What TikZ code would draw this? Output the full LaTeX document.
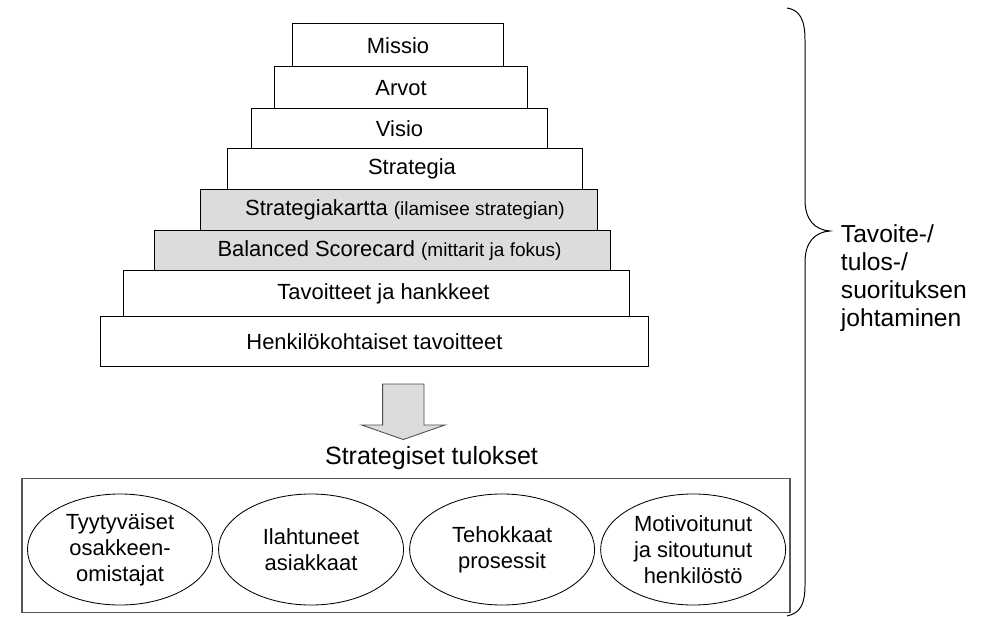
\documentclass[tikz,border=0pt]{standalone}
\usepackage{fontspec}
\setmainfont{Liberation Sans}
\usetikzlibrary{positioning,shapes.geometric}
\definecolor{tiergray}{HTML}{DCDCDC}
\definecolor{framegray}{HTML}{555555}
\newcommand{\sidenote}[1]{{\fontsize{13.5}{16}\selectfont #1}}

\begin{document}
\begin{tikzpicture}[x=0.025cm,y=-0.025cm,
  tier/.style={draw,line width=0.7pt,inner sep=0pt,outer sep=0pt,align=center,font=\fontsize{15.6}{18}\selectfont},
  goal/.style={draw,ellipse,line width=0.6pt,inner sep=0pt,outer sep=0pt,minimum width=4.625cm,minimum height=2.775cm,align=center,font=\fontsize{15.6}{18.5}\selectfont}]
  \useasboundingbox (0,0) rectangle (986,617);
  % pyramid
  \node[tier,minimum width=5.25cm,minimum height=1.0675cm] (missio) at (398,45.3) {Missio};
  \node[tier,minimum width=6.3cm,minimum height=1.05cm,below=0pt of missio,xshift=0.075cm] (arvot) {Arvot};
  \node[tier,minimum width=7.375cm,minimum height=1.0075cm,below=0pt of arvot,xshift=-0.0375cm] (visio) {Visio};
  \node[tier,minimum width=8.85cm,minimum height=1.0125cm,below=0pt of visio,xshift=0.1375cm] (strat) {\hspace*{0.35cm}Strategia};
  \node[tier,fill=tiergray,minimum width=9.9cm,minimum height=1.0125cm,below=0pt of strat,xshift=-0.15cm] (kartta) {\hspace*{0.3cm}Strategiakartta \sidenote{(ilamisee strategian)}};
  \node[tier,fill=tiergray,minimum width=11.375cm,minimum height=1.0075cm,below=0pt of kartta,xshift=-0.4125cm] (bsc) {\hspace*{0.35cm}Balanced Scorecard \sidenote{(mittarit ja fokus)}};
  \node[tier,minimum width=12.625cm,minimum height=1.16cm,below=0pt of bsc,xshift=-0.15cm] (tavoit) {\hspace*{0.35cm}Tavoitteet ja hankkeet};
  \node[tier,minimum width=13.675cm,minimum height=1.25cm,below=0pt of tavoit,xshift=-0.05cm] (henk) {Henkilökohtaiset tavoitteet};

  % block arrow
  \draw[fill=tiergray,line width=0.6pt,draw=black!70] (382.6,384) -- (424,384) -- (424,425) -- (445,425)
    -- (403.3,439.5) -- (361.6,425) -- (382.6,425) -- cycle;

  \node[font=\fontsize{17.8}{21}\selectfont] (tulokset) at (431.5,458) {Strategiset tulokset};
  \node[draw=framegray,line width=1.1pt,minimum width=19.2cm,minimum height=3.35cm,inner sep=0pt] (frame) at (406,545.5) {};

  \node[goal] (omist) at (120,549.5) {Tyytyväiset\\osakkeen-\\omistajat};
  \node[goal,right=0.15cm of omist] (asiak) {Ilahtuneet\\asiakkaat};
  \node[goal,right=0.15cm of asiak] (prosess) {Tehokkaat\\prosessit};
  \node[goal,right=0.15cm of prosess] (henkil) {Motivoitunut\\ja sitoutunut\\henkilöstö};

  % brace
  \coordinate (btop) at (787,8);
  \coordinate (btip) at (830,231);
  \coordinate (bbot) at (787,616);
  \draw[line width=0.7pt] (btop) .. controls (800,10) and (805,20) .. (805,40) -- (805,200)
    .. controls (805,220) and (815,230) .. (btip) .. controls (815,232) and (805,242) .. (805,262)
    -- (805,585) .. controls (805,605) and (800,613) .. (bbot);
  \node[anchor=west,align=left,font=\fontsize{17.5}{20}\selectfont] (johtam) at (836,278) {Tavoite-/\\tulos-/\\suorituksen\\johtaminen};
\end{tikzpicture}
\end{document}
